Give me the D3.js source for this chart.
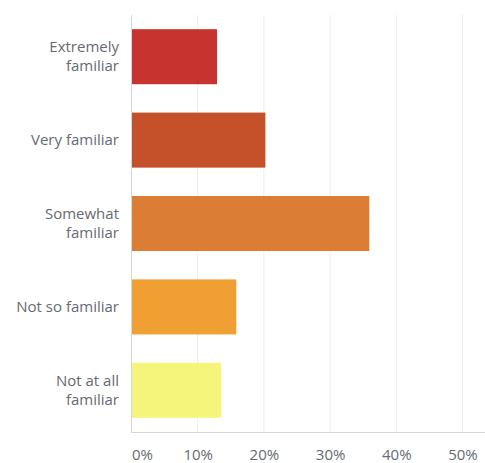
<!DOCTYPE html>
<html>
<head>
<meta charset="utf-8">
<script src="https://cdn.jsdelivr.net/npm/d3@7"></script>
<style>
  body { margin: 0; background: #fff; }
  text { font-family: "Open Sans", "Noto Sans", sans-serif; fill: #666a71; }
</style>
</head>
<body>
<script>
// data
var categories = [["Extremely", "familiar"], ["Very familiar"], ["Somewhat", "familiar"], ["Not so familiar"], ["Not at all", "familiar"]];
var values = [13.0, 20.3, 36.0, 15.9, 13.6];
var colors = ["#c7332e", "#c4512a", "#dc7d36", "#f0a032", "#f5f47b"];
var ticks = [0, 10, 20, 30, 40, 50];

var margin = {top: 15, right: 23, bottom: 31, left: 131},
    width = 485 - margin.left - margin.right,
    height = 463 - margin.top - margin.bottom;

var x = d3.scaleLinear().domain([0, 50]).range([0, width]),
    y = d3.scaleBand().domain(d3.range(values.length)).range([0, height])
          .paddingInner(0.34).paddingOuter(0.17);

var svg = d3.select("body").append("svg")
    .attr("width", 485).attr("height", 463)
  .append("g")
    .attr("transform", "translate(" + margin.left + "," + margin.top + ")");

// vertical gridlines
svg.selectAll(".grid").data(ticks).enter().append("line")
   .attr("x1", function(d){ return x(d) + 0.5; })
   .attr("x2", function(d){ return x(d) + 0.5; })
   .attr("y1", 0).attr("y2", height)
   .attr("stroke", function(d){ return d === 0 ? "#d6d6d6" : "#ececec"; })
   .attr("stroke-width", 1);

// baseline
svg.append("line")
   .attr("x1", 0).attr("x2", 485 - margin.left)
   .attr("y1", height + 0.5).attr("y2", height + 0.5)
   .attr("stroke", "#d6d6d6");

// bars
svg.selectAll(".bar").data(values).enter().append("rect")
   .attr("x", x(0) + 1)
   .attr("y", function(d, i){ return y(i); })
   .attr("width", function(d){ return x(d) - x(0) - 1; })
   .attr("height", y.bandwidth())
   .attr("fill", function(d, i){ return colors[i]; });

// category labels
var lab = svg.selectAll(".lab").data(categories).enter().append("text")
   .attr("text-anchor", "end")
   .attr("font-size", "15px")
   .attr("transform", function(d, i){ return "translate(-12," + (y(i) + y.bandwidth() / 2) + ")"; });
lab.selectAll("tspan").data(function(d){ return d.map(function(t, k){ return {t: t, k: k, n: d.length}; }); })
   .enter().append("tspan")
   .attr("x", 0)
   .attr("y", function(d){ return (d.k - (d.n - 1) / 2) * 19; })
   .attr("dy", "0.35em")
   .text(function(d){ return d.t; });

// x tick labels (first one starts at the axis)
svg.selectAll(".tick").data(ticks).enter().append("text")
   .attr("x", function(d){ return d === 0 ? x(d) + 1 : x(d) + 1; })
   .attr("y", height + 23)
   .attr("dy", "0.35em")
   .attr("text-anchor", function(d){ return d === 0 ? "start" : "middle"; })
   .attr("font-size", "15px")
   .text(function(d){ return d + "%"; });
</script>
</body>
</html>
